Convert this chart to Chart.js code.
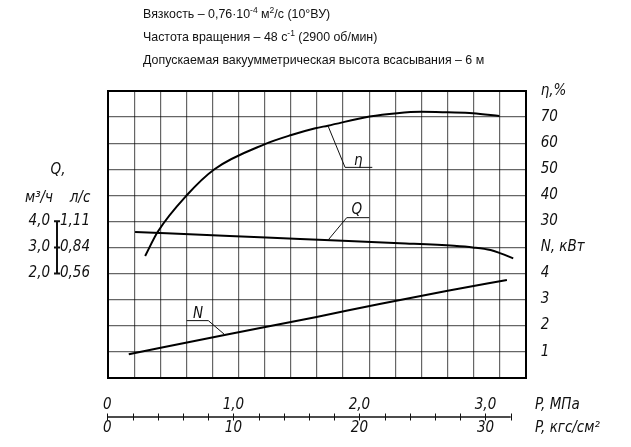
<!DOCTYPE html>
<html><head><meta charset="utf-8">
<script src="https://cdn.jsdelivr.net/npm/chart.js@4/dist/chart.umd.min.js"></script>
<style>html,body{margin:0;padding:0;background:#fff;overflow:hidden}</style>
</head><body>
<canvas id="c" width="631" height="447" style="display:block;width:631px;height:447px"></canvas>
<script>
// ---- data (x = P, kgf/cm²) ----
const etaP   = [3.0, 4.0, 6.3, 8.5, 12.5, 14.6, 16.5, 17.5, 20.8, 23.0, 24.9, 27.0, 29.0, 31.1];
const etaVal = [16.7, 26, 40, 50, 59.6, 63.1, 65.7, 66.7, 70.2, 71.5, 72.0, 71.8, 71.5, 70.4];
const qP     = [2.2, 9.7, 15.3, 23.2, 27.5, 29.0, 30.4, 31.2, 32.2];
const qVal   = [3.59, 3.44, 3.32, 3.16, 3.06, 3.00, 2.90, 2.77, 2.58];
const nP     = [1.7, 9.3, 16.5, 21.6, 27.0, 31.7];
const nVal   = [0.90, 1.64, 2.32, 2.83, 3.34, 3.75];

// ---- labels ----
const headerLines = [
  [['Вязкость – 0,76·10',0],['-4',1],[' м',0],['2',1],['/с (10°ВУ)',0]],
  [['Частота вращения – 48 с',0],['-1',1],[' (2900 об/мин)',0]],
  [['Допускаемая вакуумметрическая высота всасывания – 6 м',0]]
];
const rightLabels = ['', '1', '2', '3', '4', 'N, кВт', '30', '40', '50', '60', '70', 'η,%'];
const pTicksMPa = ['0', '1,0', '2,0', '3,0'];
const pTicksKgf = ['0', '10', '20', '30'];
const pTickVals = [0, 10, 20, 30];
const qTicksM3h = ['4,0', '3,0', '2,0'];
const qTicksLs  = ['1,11', '0,84', '0,56'];
const qTickVals = [4, 3, 2];

const GOST = 'italic 15px "Liberation Sans Narrow", "DejaVu Sans Condensed", "Liberation Sans", sans-serif';
const HEAD = '12.4px "Liberation Sans", Arial, sans-serif';
const HEADSUP = '8.5px "Liberation Sans", Arial, sans-serif';

const pts = (xs, ys) => xs.map((x, i) => ({x, y: ys[i]}));

const extras = {
  id: 'extras',
  afterDraw(chart) {
    const c = chart.ctx, s = chart.scales;
    const X = v => s.xP.getPixelForValue(v);
    c.save();
    c.fillStyle = '#111'; c.strokeStyle = '#111';
    // header
    c.textBaseline = 'alphabetic'; c.textAlign = 'left';
    const baselines = [18, 41, 64];
    headerLines.forEach((segs, i) => {
      let x = 143;
      segs.forEach(([t, sup]) => {
        c.font = sup ? HEADSUP : HEAD;
        c.fillText(t, x, baselines[i] - (sup ? 5 : 0));
        x += c.measureText(t).width;
      });
    });
    // bottom P axis
    const yA = 417;
    c.lineWidth = 1.5;
    c.beginPath(); c.moveTo(X(0), yA); c.lineTo(X(32), yA); c.stroke();
    c.lineWidth = 1;
    for (let v = 0; v <= 32; v += 2) {
      c.beginPath(); c.moveTo(Math.round(X(v)) + 0.5, yA - 3.5); c.lineTo(Math.round(X(v)) + 0.5, yA + 3.5); c.stroke();
    }
    c.font = GOST; c.textAlign = 'center'; c.textBaseline = 'middle';
    pTickVals.forEach((v, i) => {
      c.fillText(pTicksMPa[i], X(v), 405);
      c.fillText(pTicksKgf[i], X(v), 428);
    });
    c.textAlign = 'left';
    c.fillText('P, МПа', 535, 405);
    c.fillText('P, кгс/см²', 535, 428);
    // left Q scale
    const yQ = v => s.yQ.getPixelForValue(v);
    c.textAlign = 'center';
    c.fillText('Q,', 58, 170);
    c.fillText('м³/ч', 39, 198);
    c.fillText('л/с', 80, 198);
    c.lineWidth = 2;
    c.beginPath(); c.moveTo(57, yQ(4)); c.lineTo(57, yQ(2)); c.stroke();
    c.beginPath();
    c.moveTo(54, yQ(4)); c.lineTo(60, yQ(4));
    c.moveTo(54, yQ(3)); c.lineTo(60, yQ(3));
    c.moveTo(54, yQ(2)); c.lineTo(60, yQ(2));
    c.stroke();
    qTickVals.forEach((v, i) => {
      c.textAlign = 'right'; c.fillText(qTicksM3h[i], 50, yQ(v));
      c.textAlign = 'right'; c.fillText(qTicksLs[i], 90, yQ(v));
    });
    // curve labels with leaders
    c.lineWidth = 1;
    const E = v => s.yEta.getPixelForValue(v);
    const Qp = v => s.yQ.getPixelForValue(v);
    const N = v => s.yN.getPixelForValue(v);
    c.beginPath();
    c.moveTo(X(17.5), E(66.7)); c.lineTo(X(18.86), E(50.7)); c.lineTo(X(21.02), E(50.7));
    c.moveTo(X(17.53), Qp(3.29)); c.lineTo(X(18.99), Qp(4.14)); c.lineTo(X(20.78), Qp(4.14));
    c.moveTo(X(9.34), N(1.64)); c.lineTo(X(8.01), N(2.19)); c.lineTo(X(6.30), N(2.19));
    c.stroke();
    c.textAlign = 'center'; c.textBaseline = 'alphabetic';
    c.font = GOST;
    c.fillText('η', X(19.9), E(50.7) - 2);
    c.fillText('Q', X(19.8), Qp(4.14) - 4);
    c.fillText('N', X(7.2), N(2.19) - 3);
    c.restore();
  }
};

const gridW = ctx => (ctx.index === 0 || ctx.index === ctx.scale.ticks.length - 1) ? 2 : 1.2;
const gridC = ctx => (ctx.index === 0 || ctx.index === ctx.scale.ticks.length - 1) ? '#000' : 'rgba(0,0,0,0.6)';

new Chart(document.getElementById('c'), {
  type: 'line',
  data: {
    datasets: [
      {label: 'η', data: pts(etaP, etaVal), xAxisID: 'xP', yAxisID: 'yEta'},
      {label: 'Q', data: pts(qP, qVal), xAxisID: 'xP', yAxisID: 'yQ'},
      {label: 'N', data: pts(nP, nVal), xAxisID: 'xP', yAxisID: 'yN'}
    ]
  },
  options: {
    responsive: false, animation: false, devicePixelRatio: 1,
    layout: {padding: {left: 108.3, top: 91, right: 0, bottom: 69.3}},
    elements: {
      line: {borderColor: '#000', borderWidth: 2, cubicInterpolationMode: 'monotone', fill: false},
      point: {radius: 0, hoverRadius: 0}
    },
    plugins: {legend: {display: false}, tooltip: {enabled: false}, title: {display: false}},
    scales: {
      xg: {type: 'linear', position: 'bottom', min: 0, max: 16,
           ticks: {display: false, stepSize: 1},
           grid: {drawTicks: false, lineWidth: gridW, color: gridC},
           border: {display: true, width: 2, color: '#000'}},
      yg: {type: 'linear', position: 'left', min: 0, max: 11,
           ticks: {display: false, stepSize: 1},
           grid: {drawTicks: false, lineWidth: gridW, color: gridC},
           border: {display: true, width: 2, color: '#000'}},
      yR: {type: 'linear', position: 'right', min: 0, max: 11,
           ticks: {stepSize: 1, autoSkip: false, padding: 15, color: '#111',
                   font: {family: '"Liberation Sans Narrow", "DejaVu Sans Condensed", "Liberation Sans", sans-serif', size: 15, style: 'italic'},
                   callback: v => rightLabels[v]},
           grid: {display: false, drawTicks: false},
           border: {display: true, width: 2, color: '#000'},
           afterFit: sc => { sc.width = 105.3; }},
      xP: {type: 'linear', display: false, min: 0.077, max: 33.19},
      yEta: {type: 'linear', display: false, min: -30, max: 80},
      yQ: {type: 'linear', display: false, min: -2, max: 9},
      yN: {type: 'linear', display: false, min: 0, max: 11}
    }
  },
  plugins: [extras]
});
</script>
</body></html>
